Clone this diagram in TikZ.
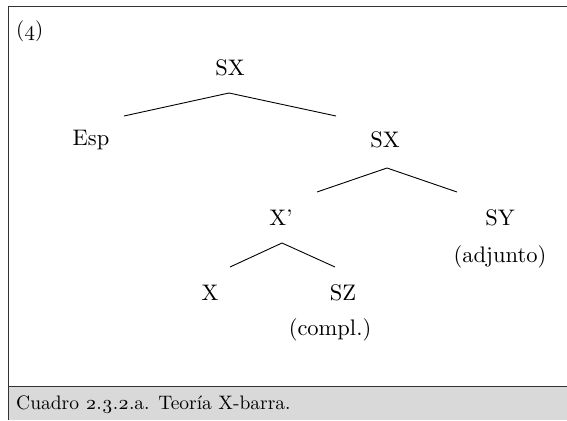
\documentclass[tikz,border=0pt]{standalone}
\usepackage{fontspec}
\setmainfont{lmroman10-regular.otf}
\begin{document}
\begin{tikzpicture}[x=1pt,y=-1pt,
  lbl/.style={font=\fontsize{22.5}{27}\selectfont, inner sep=0pt, anchor=center},
  captxt/.style={font=\fontsize{19.5}{24}\selectfont, inner sep=0pt, anchor=west},
  branch/.style={line width=0.9pt, black},
  frame/.style={line width=1pt, draw=black!80}]
\useasboundingbox (0,0) rectangle (567,420);
% box with shaded caption band
\fill[black!15] (8,386) rectangle (567,420);
\draw[frame] (8,420) -- (8,7) -- (567,7);
\draw[frame] (8,386) -- (567,386);
\node[captxt, font=\fontsize{21}{24}\selectfont] (num) at (16,31) {(\oldstylenums{4})};
\node[captxt] (cap) at (16,405) {Cuadro \oldstylenums{2}.\oldstylenums{3}.\oldstylenums{2}.a. Teoría X-barra.};
% tree labels
\node[lbl] (sx1) at (230,68) {SX};
\node[lbl] (esp) at (91,140) {Esp};
\node[lbl] (sx2) at (385,140) {SX};
\node[lbl] (xb) at (281,218) {X’};
\node[lbl] (sy) at (500,218) {SY};
\node[lbl] (adj) at (500,257) {(adjunto)};
\node[lbl] (x) at (210,293) {X};
\node[lbl] (sz) at (343,293) {SZ};
\node[lbl] (compl) at (330,330) {(compl.)};
% branch end points
\coordinate (sx1-a) at (229,93);
\coordinate (esp-t) at (124,116);
\coordinate (sx2-t) at (336,116);
\coordinate (sx2-a) at (387,168);
\coordinate (xb-t) at (317,192);
\coordinate (sy-t) at (457,192);
\coordinate (xb-a) at (282,243);
\coordinate (x-t) at (230,267);
\coordinate (sz-t) at (335,267);
\draw[branch] (esp-t) -- (sx1-a) -- (sx2-t);
\draw[branch] (xb-t) -- (sx2-a) -- (sy-t);
\draw[branch] (x-t) -- (xb-a) -- (sz-t);
\end{tikzpicture}
\end{document}
